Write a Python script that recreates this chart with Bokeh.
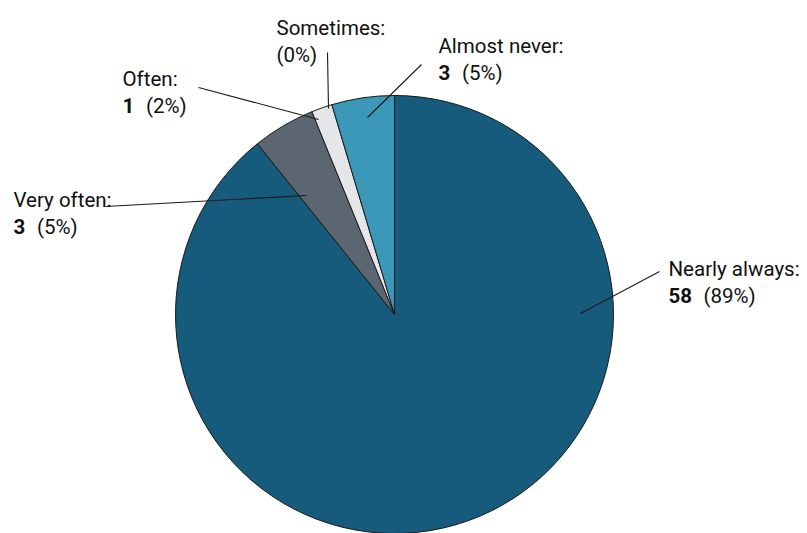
import math
from bokeh.plotting import figure
from bokeh.models import ColumnDataSource, Range1d
from bokeh.embed import file_html
from bokeh.resources import INLINE
from bokeh.core.properties import value

# ---- data ----
categories = ["Nearly always", "Very often", "Often", "Sometimes", "Almost never"]
counts = [58, 3, 1, 0, 3]
show_count = [True, True, True, False, True]
colors = ["#165b7b", "#5b6670", "#e4e6e9", "#e4e6e9", "#3b98b9"]

# ---- layout (pixel positions, top-left origin) ----
W, H = 807, 533
CX, CY, R = 394, 314, 219
label_x = [668, 13, 122, 276, 438]
label_base = [268, 199, 78, 27, 45]
leader_out = [(659, 271), (105, 206), (198, 87), (327, 52), (421, 64)]
leader_in = [(580, 313), (306, 195), (318, 119), (328, 108), (367, 117)]
LINE_GAP = 27
FONT = "Roboto"
FS = "20.5px"
DIGIT_W = 11.5
NUM_GAP = 12

total = sum(counts)
starts, ends = [], []
cum = 0
for c in counts:
    starts.append(math.pi / 2 - 2 * math.pi * cum / total)
    cum += c
    ends.append(math.pi / 2 - 2 * math.pi * cum / total)

p = figure(width=W, height=H, output_backend="svg", toolbar_location=None,
           x_range=Range1d(0, W), y_range=Range1d(0, H), min_border=0)
p.axis.visible = False
p.grid.visible = False
p.outline_line_color = None
p.background_fill_color = "white"
p.border_fill_color = "white"

nz = [i for i, c in enumerate(counts) if c > 0]
wsrc = ColumnDataSource(dict(cat=[categories[i] for i in nz],
                             start=[starts[i] for i in nz], end=[ends[i] for i in nz],
                             color=[colors[i] for i in nz]))
p.wedge(x=CX, y=H - CY, radius=R, start_angle="start", end_angle="end",
        direction="clock", fill_color="color", line_color="#1a1a1a",
        line_width=1, source=wsrc)

# leader lines
p.segment(x0=[a[0] for a in leader_out], y0=[H - a[1] for a in leader_out],
          x1=[a[0] for a in leader_in], y1=[H - a[1] for a in leader_in],
          line_color="#1a1a1a", line_width=1.1)

# labels
pct = ["(%d%%)" % round(100 * c / total) for c in counts]
p.text(x=label_x, y=[H - b for b in label_base], text=[c + ":" for c in categories],
       text_font=value(FONT), text_font_size=FS, text_color="#111111",
       text_baseline="alphabetic", text_align="left")
num_x, num_y, num_t = [], [], []
pct_x, pct_y = [], []
for i in range(len(categories)):
    y2 = H - (label_base[i] + LINE_GAP)
    if show_count[i]:
        s = str(counts[i])
        num_x.append(label_x[i]); num_y.append(y2); num_t.append(s)
        pct_x.append(label_x[i] + len(s) * DIGIT_W + NUM_GAP)
    else:
        pct_x.append(label_x[i])
    pct_y.append(y2)
p.text(x=num_x, y=num_y, text=num_t, text_font=value(FONT), text_font_size=FS,
       text_font_style="bold", text_color="#111111",
       text_baseline="alphabetic", text_align="left")
p.text(x=pct_x, y=pct_y, text=pct, text_font=value(FONT), text_font_size=FS,
       text_color="#111111", text_baseline="alphabetic", text_align="left")

open("out.html", "w").write(file_html(p, INLINE))
